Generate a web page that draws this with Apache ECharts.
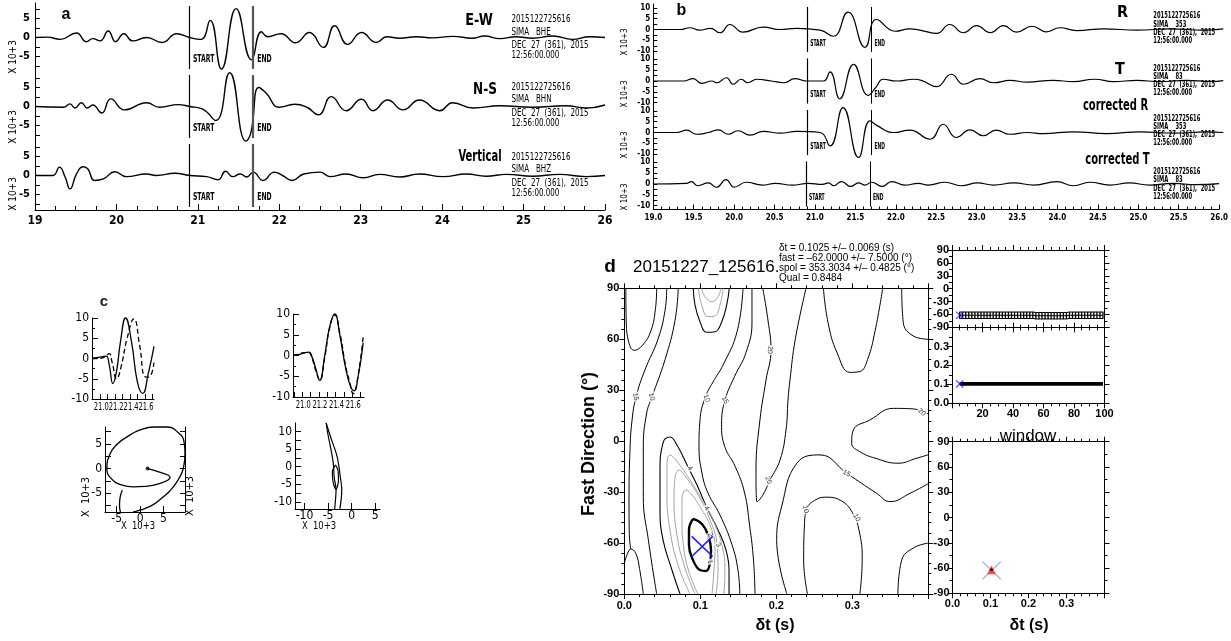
<!DOCTYPE html>
<html><head><meta charset="utf-8">
<script src="https://cdn.jsdelivr.net/npm/echarts@6/dist/echarts.min.js"></script>
<style>html,body{margin:0;padding:0;background:#fff}#c{width:1231px;height:641px}</style>
</head><body><div id="c"></div><script>
// ================= DATA =================
const pickTimes = [20.89, 21.68]; // START, END
const pickLabelY = {a:-5.6, b:-6.6};
// panel a (E-W, N-S, Vertical): [time s, amplitude x10^3]
const aEW = [[19.0,0],[19.15,0.1],[19.31,-0.5],[19.51,1.2],[19.63,-1.1],[19.71,-0.3],[19.8,-0.9],[19.9,1.7],[19.99,-1.1],[20.09,1.0],[20.2,-0.9],[20.37,0],[20.56,-1.3],[20.74,1.0],[20.9,0],[21.04,-0.5],[21.15,4.5],[21.29,-8.3],[21.47,7.6],[21.66,-5.9],[21.78,1.5],[21.86,0.2],[22.02,1.0],[22.2,-1.4],[22.37,1.3],[22.54,-2.6],[22.68,3.1],[22.84,-1.8],[23.01,1.3],[23.19,-1.3],[23.32,0.2],[23.48,-0.2],[23.68,0.2],[23.88,-0.1],[24.13,0.3],[24.37,-0.2],[24.52,0.4],[24.71,-0.3],[24.91,0.2],[25.11,-0.2],[25.36,0.4],[25.6,-0.5],[25.81,0.2],[26.0,0]];
const aNS = [[19.0,0],[19.35,-0.2],[19.43,0.7],[19.49,-0.4],[19.57,1.0],[19.64,-0.4],[19.71,0.4],[19.82,-1.7],[19.93,2.0],[20.1,-0.9],[20.37,1.0],[20.53,-0.2],[20.76,0.5],[20.9,0],[21.06,-0.7],[21.22,-3.7],[21.39,8.9],[21.59,-9.1],[21.65,-7],[21.75,5.0],[21.84,3.5],[22.0,-0.2],[22.19,0.6],[22.34,-0.2],[22.48,-2.2],[22.64,2.6],[22.82,-1.1],[23.01,1.9],[23.15,-1.1],[23.33,1.7],[23.52,-0.9],[23.72,1.7],[23.97,-1.1],[24.13,1.0],[24.38,-0.4],[24.71,0.2],[25.11,-0.2],[25.52,0.2],[25.77,-0.4],[26.0,0.4]];
const aZ = [[19.0,0],[19.22,0],[19.3,2.2],[19.37,-0.4],[19.43,-3.5],[19.51,0.4],[19.59,2.3],[19.65,1.7],[19.73,-1.3],[19.84,-0.9],[19.98,1.0],[20.12,-0.3],[20.37,0.4],[20.49,0],[20.72,0.6],[20.9,0],[21.11,-0.3],[21.25,-1.1],[21.34,1.1],[21.43,-0.3],[21.52,0.4],[21.6,-0.4],[21.68,0.9],[21.8,-1.3],[21.94,0.9],[22.04,0],[22.16,-1.3],[22.3,0.4],[22.5,0.9],[22.62,-0.3],[22.82,0.4],[23.03,-0.6],[23.23,0.3],[23.48,-0.4],[23.72,0.4],[24.01,-0.3],[24.3,0.4],[24.54,-0.2],[24.79,0.3],[25.11,-0.2],[25.44,0.3],[25.77,-0.3],[26.0,0]];
// panel b (R, T, corrected R, corrected T)
const bR = [[19.0,0],[19.33,0],[19.45,0.8],[19.57,-0.3],[19.7,0.5],[19.82,-1.5],[19.94,2.3],[20.1,-1.2],[20.35,1.1],[20.56,0],[20.76,0.5],[21.05,-0.3],[21.21,-3.1],[21.39,8.0],[21.6,-8.2],[21.74,4.6],[21.97,-0.8],[22.15,0.3],[22.3,-0.5],[22.48,-1.8],[22.64,2.3],[22.81,-1.5],[22.97,1.8],[23.14,-1.5],[23.3,1.8],[23.46,-1.2],[23.65,1.5],[23.83,-1.1],[23.99,0.8],[24.2,-0.5],[24.53,0.3],[24.94,-0.3],[25.35,0.3],[25.75,-0.3],[26.0,0.3]];
const bT = [[19.0,0],[19.37,0],[19.49,1.1],[19.59,-1.1],[19.72,0],[19.78,-0.8],[19.9,1.5],[19.98,-1.5],[20.08,0.8],[20.16,-0.8],[20.27,0.8],[20.45,0],[20.6,-0.8],[20.74,1.1],[20.88,0],[21.09,0],[21.17,4.2],[21.29,-8.2],[21.46,7.7],[21.64,-6.6],[21.74,-2.6],[21.82,0.8],[21.99,0],[22.2,0.8],[22.3,0.2],[22.48,-2.6],[22.66,3.1],[22.81,-1.5],[23.01,1.1],[23.18,-0.8],[23.38,0.3],[23.59,-0.5],[23.91,0.3],[24.16,-0.3],[24.42,0.8],[24.65,-0.3],[24.94,0.3],[25.22,-0.3],[25.55,0.3],[25.84,-0.2],[26.0,0.2]];
const bCorrR = [[19.0,0],[19.29,0],[19.41,1.1],[19.53,-0.8],[19.68,0],[19.8,1.2],[19.92,-0.8],[20.04,0.8],[20.19,-1.2],[20.35,0.5],[20.56,-0.3],[20.76,0.5],[21.05,0],[21.17,-6.2],[21.33,11.5],[21.52,-11.5],[21.66,5.4],[21.74,3.4],[21.95,0],[22.15,1.1],[22.4,-3.1],[22.56,3.8],[22.72,-2.3],[22.89,1.2],[23.05,-1.5],[23.21,1.1],[23.38,-0.8],[23.59,0],[23.79,-0.5],[24.16,0.3],[24.57,-0.5],[24.98,0.3],[25.39,-0.3],[25.8,0.3],[26.0,0]];
const bCorrT = [[19.0,0],[19.41,0.3],[19.47,1.1],[19.55,-0.8],[19.68,0.5],[19.78,-1.5],[19.9,2.0],[20.0,-1.5],[20.15,0.8],[20.35,-0.5],[20.51,0.3],[20.72,-0.5],[20.92,0.3],[21.09,-0.2],[21.17,0.5],[21.23,-0.8],[21.33,1.1],[21.44,-1.1],[21.54,0.5],[21.62,-0.5],[21.7,0.8],[21.83,-1.1],[21.95,1.1],[22.11,-0.5],[22.28,0.3],[22.4,-0.5],[22.61,0.8],[22.81,-0.8],[23.01,0.5],[23.21,-0.5],[23.46,0.5],[23.71,-0.5],[23.99,1.1],[24.2,-0.8],[24.4,0.8],[24.65,-0.5],[24.89,0.5],[25.14,-0.5],[25.43,0.3],[25.71,-0.3],[26.0,0.2]];
// panel c waveforms in window (fast solid, slow dashed)
const cFastOrig = [[20.89,0.1],[20.95,0.2],[21.02,0.4],[21.08,0.6],[21.12,-1.5],[21.17,-6.2],[21.22,-3],[21.27,4],[21.34,10],[21.42,4],[21.5,-6],[21.57,-8.6],[21.64,-4],[21.72,3]];
const cSlowOrig = [[20.89,0],[20.98,0],[21.06,0.4],[21.12,1.2],[21.16,-1],[21.22,-5],[21.28,-2],[21.36,5],[21.45,9.8],[21.53,3],[21.6,-4.5],[21.65,-4.6],[21.72,-1]];
const cFastCorr = [[20.89,0],[20.95,0.2],[21.02,0.6],[21.08,0.8],[21.12,-0.5],[21.16,-3],[21.21,-6],[21.27,0],[21.33,7],[21.39,10],[21.45,5],[21.52,-3],[21.58,-7.5],[21.62,-8.5],[21.67,-5],[21.73,3]];
const cSlowCorr = [[20.89,0.1],[20.95,0.3],[21.02,0.7],[21.08,0.7],[21.12,-0.8],[21.16,-3.5],[21.21,-5.8],[21.27,-0.5],[21.33,6.8],[21.39,9.8],[21.45,5.5],[21.52,-2.5],[21.57,-6.5],[21.61,-9.2],[21.66,-6],[21.73,4.5]];
// panel c particle motion
const cPMOrig = [[1.6,0],[4,-0.7],[6.4,-1.8],[4.3,-3.0],[1,-3.6],[-1.4,-3.7],[-4,-3.3],[-6.2,-2],[-7.1,0],[-6.4,3],[-4.8,5],[-2.8,6.4],[0,7.8],[3,8.4],[5.7,8.4],[8,7.4],[9.4,5.4],[9.6,3],[9.3,0.3],[8.2,-2.2],[6.4,-4.5],[4.6,-6],[2.8,-7.3],[1,-8.1],[-0.7,-8.6],[-1.5,-8.8]];
const cPMOrigTail = [[-4.2,-8.8],[-4.4,-7.5],[-4.3,-6],[-3.8,-4.4]];
const cPMStart = [[1.6,0]];
const cPMCorrA = [[-5.4,12.4],[-4.6,9],[-3.7,5.5],[-3.1,3],[-2.7,0],[-2.4,-3],[-2.1,-6.4],[-2.2,-9],[-2.5,-12]];
const cPMCorrB = [[-5.4,12.4],[-5.0,9],[-4.4,5],[-3.9,1],[-3.7,-3],[-3.3,-6.4],[-3.4,-9],[-3.6,-12]];
const cPMCorrLoop = [[-3.4,0.5],[-4.1,-1.5],[-3.9,-4.5],[-3.3,-6.4],[-2.8,-4],[-2.9,-1],[-3.4,0.5]];
// panel d: best result
const bestDt = 0.1025, bestFast = -62.0, bestWindow = 5;
const crossMain = [[[0.0887,-56.1],[0.1163,-67.9]],[[0.0887,-67.9],[0.1163,-56.1]]];
const crossScatter = [[[0.079,-52.4],[0.127,-73.4]],[[0.079,-73.4],[0.127,-52.4]]];
const windows = [5,7,9,11,13,15,17,19,21,23,25,27,29,31,33,35,37,39,41,43,45,47,49,51,53,55,57,59,61,63,65,67,69,71,73,75,77,79,81,83,85,87,89,91,93,95,97,99];
const fastWin = [-62,-62,-62,-62,-62,-62,-62,-62,-62,-62,-62,-62,-62,-62,-62,-62,-62,-62,-62,-62,-62,-62,-62,-62,-62,-63,-63,-63,-63,-63,-63,-63,-63,-63,-63,-63,-62,-62,-62,-62,-62,-62,-62,-62,-62,-62,-62,-62];
const dtWin = [0.1025,0.1025,0.1025,0.1025,0.1025,0.1025,0.1025,0.1025,0.1025,0.1025,0.1025,0.1025,0.1025,0.1025,0.1025,0.1025,0.1025,0.1025,0.1025,0.1025,0.1025,0.1025,0.1025,0.1025,0.1025,0.1025,0.1025,0.1025,0.1025,0.1025,0.1025,0.1025,0.1025,0.1025,0.1025,0.1025,0.1025,0.1025,0.1025,0.1025,0.1025,0.1025,0.1025,0.1025,0.1025,0.1025,0.1025,0.1025];
const fastErr = 7.5;
// panel d: contour lines [dt s, fast deg]
const cU1 = [[0.002,90],[0.0025,72],[0.006,58],[0.013,53.5],[0.024,56.5],[0.035,65],[0.041,78],[0.0426,90]];
const cArch = [[0,-72],[0.004,-66.5],[0.0085,-63.5],[0.015,-66],[0.02,-75],[0.025,-90]];
const c15L = [[0.0558,90],[0.0536,77],[0.0443,60],[0.0272,42],[0.0154,26],[0.0101,12],[0.0075,-5],[0.0062,-35],[0.0066,-55],[0.0085,-63.5]];
const c10L = [[0.071,90],[0.0667,71],[0.0536,48],[0.0364,26],[0.0295,16.6],[0.025,-3.4],[0.025,-33],[0.0316,-58],[0.0426,-90]];
const c10R = [[0.1562,90],[0.1483,64.3],[0.1299,44.8],[0.1167,34.8],[0.1062,25.4],[0.0996,12.5],[0.0983,-3.4],[0.1022,-18.8],[0.1101,-30.5],[0.1259,-43.5],[0.1417,-61],[0.1496,-76],[0.152,-90]];
const c4 = [[0.0733,-90],[0.0628,-76],[0.0509,-58],[0.047,-40.5],[0.047,-17],[0.0509,-1.1],[0.0601,2.4],[0.0693,-2.3],[0.0838,-15.2],[0.0957,-25.8],[0.1088,-39.4],[0.1233,-52.3],[0.1338,-64.1],[0.1378,-76],[0.1378,-90]];
const c4Top = [[0.0908,90],[0.093,80.2],[0.0996,70.3],[0.1084,64.1],[0.1193,64.4],[0.1282,70.3],[0.1347,80.2],[0.1382,90]];
const cG1 = [[0.0864,-90],[0.0707,-72.9],[0.0601,-52.3],[0.0562,-31.7],[0.0562,-14],[0.0601,-8.2],[0.068,-11.1],[0.0864,-22.9],[0.1049,-36.4],[0.1206,-50.5],[0.1299,-64.1],[0.1324,-75.9],[0.1311,-90]];
const cG2 = [[0.093,-90],[0.0786,-72.9],[0.0693,-55.3],[0.0654,-34.7],[0.0667,-21.7],[0.072,-17],[0.0798,-20.5],[0.097,-31.7],[0.1128,-46.4],[0.122,-61.1],[0.1233,-75.9],[0.1207,-90]];
const cG3 = [[0.097,-90],[0.0864,-78.8],[0.0786,-64.1],[0.0759,-46.4],[0.0759,-34.6],[0.0812,-28.8],[0.0891,-31.7],[0.1022,-40.5],[0.1141,-51.1],[0.1193,-62.9],[0.118,-75.9],[0.1154,-90]];
const cGTop1 = [[0.0974,90],[0.1018,80.2],[0.1105,73.3],[0.1193,73.7],[0.1259,80.2],[0.1303,90]];
const cGTop2 = [[0.1018,90],[0.1062,85.1],[0.115,82.1],[0.1237,85.1],[0.1268,90]];
const c1 = [[0.0904,-45.8],[0.1022,-48.8],[0.1101,-55.3],[0.1141,-64.1],[0.1128,-71.7],[0.1075,-76.5],[0.0996,-75.9],[0.0904,-70],[0.0851,-61.1],[0.0851,-52.3],[0.0904,-45.8]];
const c15C = [[0.168,90],[0.168,70],[0.16,52],[0.145,38],[0.1325,24.2],[0.128,10],[0.132,-3],[0.146,-15],[0.158,-30],[0.165,-50],[0.17,-70],[0.172,-90]];
const c20 = [[0.1822,90],[0.189,71.3],[0.193,53.7],[0.1865,36],[0.1785,12.5],[0.1733,-17],[0.1746,-35.8],[0.182,-32],[0.1917,-22.9],[0.2049,-11.1],[0.2128,6.6],[0.2154,24.2],[0.218,36],[0.225,60],[0.2391,90]];
const cTopR = [[0.262,90],[0.268,70],[0.28,52],[0.297,40.5],[0.31,41],[0.32,48],[0.33,65],[0.34,90]];
const cEdgeTop = [[0.365,90],[0.367,70],[0.38,62],[0.4,60]];
const cEdgeBot = [[0.36,-90],[0.365,-70],[0.38,-63],[0.4,-60]];
const c20R = [[0.4,16],[0.38,19],[0.354,19.3],[0.3233,12.5],[0.3014,6.6],[0.2992,-1.3],[0.31,-6.2],[0.33,-10],[0.36,-13],[0.385,-10],[0.4,-8]];
const c15R = [[0.214,-90],[0.2005,-58],[0.207,-38.6],[0.227,-13],[0.2575,-8.1],[0.293,-19],[0.332,-30.7],[0.35,-35.6],[0.376,-30.7],[0.4,-25]];
const c10R2 = [[0.241,-90],[0.236,-70],[0.237,-50],[0.24,-40],[0.25,-35],[0.265,-33],[0.285,-35],[0.30,-42],[0.31,-55],[0.313,-70],[0.31,-90]];
const cLabelPos = [[0.015,26.2],[0.036,26.2],[0.1084,25.2],[0.1325,24.2],[0.1917,53.7],[0.0864,-16],[0.1084,-39.5],[0.1128,-55.3],[0.1237,-61.1],[0.1128,-71],[0.1895,-23],[0.2926,-19],[0.2385,-40],[0.3058,-45],[0.3913,17]];
const cLabelText = ['15','10','10','15','20','4','4','2','3','1','20','15','10','10','20'];
// tick label values
const aYLabels = [-5,0,5];
const bYLabels = [-10,-5,0,5,10];
const cXLabels = [21.0,21.2,21.4,21.6];

// ================= STYLE / LAYOUT =================
const NARROW = "'Liberation Sans Narrow','DejaVu Sans Condensed',sans-serif";
const SANS = "'Liberation Sans',Arial,sans-serif";
const K = '#000';
const grids=[],xAxes=[],yAxes=[],series=[],texts=[];
const G=g=>(grids.push(g),grids.length-1);
const X=a=>(xAxes.push(a),xAxes.length-1);
const Y=a=>(yAxes.push(a),yAxes.length-1);
function ax(o){
  const base={type:'value',splitLine:{show:false},
    axisLine:{show:true,onZero:false,lineStyle:{color:K,width:1}},
    axisTick:{show:true,inside:false,length:5,lineStyle:{color:K,width:1}},
    minorTick:{show:false,lineStyle:{color:K,width:1}},
    axisLabel:{show:true,color:K,fontSize:11,fontFamily:SANS,fontWeight:'bold',margin:4,hideOverlap:false}};
  const r=Object.assign({},base,o);
  ['axisLine','axisTick','axisLabel','minorTick'].forEach(k=>{ if(o[k]) r[k]=Object.assign({},base[k],o[k]); });
  return r;
}
function T(x,y,text,size,o){o=o||{};return {type:'text',x:x,y:y,rotation:o.rot||0,scaleX:o.sx||1,z:100,silent:true,
  style:{text:text,fill:o.color||K,fontSize:size,fontFamily:o.font||NARROW,fontWeight:o.weight||'normal',
  align:o.align||'left',verticalAlign:o.valign||'middle',textAlign:o.align||'left',textVerticalAlign:o.valign||'middle'}};}
function pickLines(lim,endStyle){return {silent:true,symbol:'none',label:{show:false},animation:false,
  data:[[{coord:[pickTimes[0],-lim],lineStyle:{color:K,width:1.2,type:'solid'}},{coord:[pickTimes[0],lim]}],
        [{coord:[pickTimes[1],-lim],lineStyle:endStyle},{coord:[pickTimes[1],lim]}]]};}
const trace=(xi,yi,d,w)=>({type:'line',xAxisIndex:xi,yAxisIndex:yi,data:d,smooth:0.5,symbol:'none',clip:false,lineStyle:{color:K,width:w}});
const pickAxes=[]; // [xi, yi, labelY, fontSize, scaleX, gap]
const cLabelAxes=[]; // [xi, yi]

// ---- panel a ----
const aTops=[3,72,141];
[aEW,aNS,aZ].forEach((d,i)=>{
  const g=G({left:35,top:aTops[i],width:570,height:69});
  const xi=X(ax({gridIndex:g,min:19,max:26,interval:1,show:i===2,
    axisTick:{inside:true,length:6},minorTick:{show:true,splitNumber:4,length:4},
    axisLabel:{fontFamily:NARROW,fontSize:12,margin:5}}));
  const yi=Y(ax({gridIndex:g,min:-9.08,max:9.08,
    axisTick:{inside:true,length:5,customValues:[-7.5,-5,-2.5,0,2.5,5,7.5]},
    axisLabel:{fontFamily:NARROW,fontSize:11,margin:5,customValues:aYLabels}}));
  const s=trace(xi,yi,d,1.4); s.markLine=pickLines(8.3,{color:'#555',width:2.2,type:'solid'}); series.push(s);
  pickAxes.push([xi,yi,pickLabelY.a,11,0.62,4]);
});
// ---- panel b ----
const bTops=[4,55.5,107,158.5];
[bR,bT,bCorrR,bCorrT].forEach((d,i)=>{
  const g=G({left:653.3,top:bTops[i],width:570,height:51});
  const xi=X(ax({gridIndex:g,min:19,max:26,interval:0.5,show:i===3,
    axisTick:{inside:true,length:5},minorTick:{show:true,splitNumber:5,length:3},
    axisLabel:{fontFamily:NARROW,fontSize:8,margin:4,formatter:v=>v.toFixed(1)}}));
  const yi=Y(ax({gridIndex:g,min:-11.75,max:11.75,
    axisTick:{inside:true,length:4,customValues:[-10,-7.5,-5,-2.5,0,2.5,5,7.5,10]},
    axisLabel:{fontFamily:NARROW,fontSize:8,margin:3,customValues:bYLabels}}));
  const s=trace(xi,yi,d,1.2); s.markLine=pickLines(10.4,{color:K,width:1,type:'solid'}); series.push(s);
  pickAxes.push([xi,yi,pickLabelY.b,8,0.62,3]);
});
// ---- panel c ----
const cTickX=[20.9,21.0,21.1,21.2,21.3,21.4,21.5,21.6,21.7];
function cWave(box,xmax,solid,dashed){
  const g=G(box);
  const xi=X(ax({gridIndex:g,min:20.89,max:xmax,axisTick:{inside:true,length:5,customValues:cTickX},
    axisLabel:{show:false}}));
  const yi=Y(ax({gridIndex:g,min:-10,max:10,interval:5,axisTick:{inside:true,length:6},minorTick:{show:true,splitNumber:2,length:3},
    axisLabel:{fontFamily:NARROW,fontSize:12,fontWeight:'normal',margin:3,showMinLabel:true,showMaxLabel:true}}));
  series.push(trace(xi,yi,solid,1.3));
  const s=trace(xi,yi,dashed,1.3); s.lineStyle.type=[5,3]; series.push(s);
  cLabelAxes.push([xi,yi]);
}
cWave({left:92,top:318,width:62,height:81},21.72,cFastOrig,cSlowOrig);
cWave({left:293,top:314,width:71,height:83},21.74,cFastCorr,cSlowCorr);
function cPM(box,xr,yr,xl,yl,yt,right){
  const g=G(box);
  const xi=X(ax({gridIndex:g,min:xr[0],max:xr[1],axisTick:{inside:true,length:6,customValues:xl},
    axisLabel:{customValues:xl,fontFamily:NARROW,fontSize:12,fontWeight:'normal',margin:1,showMinLabel:true,showMaxLabel:true}}));
  const yi=Y(ax({gridIndex:g,min:yr[0],max:yr[1],axisTick:{inside:true,length:6,customValues:yt},
    axisLabel:{customValues:yl,fontFamily:NARROW,fontSize:12,fontWeight:'normal',margin:3,showMinLabel:true,showMaxLabel:true}}));
  if(right) Y(ax({gridIndex:g,min:yr[0],max:yr[1],position:'right',axisTick:{inside:true,length:5,customValues:yt},axisLabel:{show:false}}));
  return [xi,yi];
}
let [x3,y3]=cPM({left:105,top:427,width:80,height:85},[-7.5,9.6],[-8.8,8.4],[-5,0,5],[-5,0,5],[-7.5,-5,-2.5,0,2.5,5,7.5],true);
series.push(trace(x3,y3,cPMOrig,1.3)); series.push(trace(x3,y3,cPMOrigTail,1.3));
series.push({type:'scatter',xAxisIndex:x3,yAxisIndex:y3,data:cPMStart,symbol:'circle',symbolSize:4,itemStyle:{color:K}});
let [x4,y4]=cPM({left:295,top:423,width:85,height:86},[-12,6],[-12,12.4],[-10,-5,0,5],[-10,-5,0,5,10],[-10,-7.5,-5,-2.5,0,2.5,5,7.5,10],false);
[cPMCorrA,cPMCorrB,cPMCorrLoop].forEach(d=>{const s=trace(x4,y4,d,1.2);s.smooth=0.3;series.push(s);});

// ---- panel d main ----
const gD=G({left:624.3,top:288.3,width:304,height:305.7});
const dX={min:0,max:0.4,interval:0.1};
const xD=X(ax(Object.assign({gridIndex:gD,minorTick:{show:true,splitNumber:5,length:3},axisTick:{length:5},
  axisLabel:{formatter:v=>v.toFixed(1),showMaxLabel:false,margin:6}},dX)));
X(ax(Object.assign({gridIndex:gD,position:'top',minorTick:{show:true,splitNumber:5,length:3},axisLabel:{show:false}},dX)));
const yD=Y(ax({gridIndex:gD,min:-90,max:90,interval:30,minorTick:{show:true,splitNumber:5,length:3},axisLabel:{margin:5}}));
Y(ax({gridIndex:gD,min:-90,max:90,interval:30,position:'right',minorTick:{show:true,splitNumber:5,length:3},axisLabel:{show:false}}));
const GREY='#a3a3a3';
const contourSet=[[cU1,K,1],[cArch,K,1],[c15L,K,1],[c10L,K,1],[c10R,K,1],[c4,K,1.1],[c4Top,K,1.1],[cG1,GREY,1],[cG2,GREY,1],[cG3,GREY,1],
  [cGTop1,GREY,1],[cGTop2,GREY,1],[c1,K,2.4],[c15C,K,1],[c20,K,1],[cTopR,K,1],[cEdgeTop,K,1],[cEdgeBot,K,1],[c20R,K,1],[c15R,K,1],[c10R2,K,1]];
contourSet.forEach(([d,c,w])=>series.push({type:'line',xAxisIndex:xD,yAxisIndex:yD,data:d,smooth:0.45,symbol:'none',lineStyle:{color:c,width:w}}));
const labelRot=[-80,-75,-70,-60,-95,-55,-55,-60,-60,-80,-70,-30,-80,-60,-40];
series.push({type:'scatter',xAxisIndex:xD,yAxisIndex:yD,symbolSize:1,itemStyle:{color:'rgba(0,0,0,0)'},z:5,
  data:cLabelPos.map((p,i)=>({value:p,label:{formatter:cLabelText[i],rotate:labelRot[i]}})),
  label:{show:true,position:'inside',color:K,fontSize:7,fontFamily:SANS,backgroundColor:'#fff',padding:[0,1]}});
crossMain.forEach(seg=>series.push({type:'line',xAxisIndex:xD,yAxisIndex:yD,data:seg,symbol:'none',z:6,lineStyle:{color:'#1f1fff',width:1.6}}));

// ---- panel d side plots ----
const XSYM='path://M0,1L1,0L5,4L9,0L10,1L6,5L10,9L9,10L5,6L1,10L0,9L4,5Z';
function sideAxes(box,xr,xi_,yr,yi_,xlab,ylabFmt,xminor,yminor,hideYMax){
  const g=G(box);
  const xb={gridIndex:g,min:xr[0],max:xr[1],interval:xi_,minorTick:{show:true,splitNumber:xminor,length:3},axisTick:{length:5}};
  const xi=X(ax(Object.assign({},xb,{axisLabel:{show:xlab,showMinLabel:xr[1]!==100,showMaxLabel:xr[1]===100,margin:5,formatter:xr[1]===100?null:(v=>v.toFixed(1))}})));
  X(ax(Object.assign({},xb,{position:'top',axisLabel:{show:false}})));
  const yb={gridIndex:g,min:yr[0],max:yr[1],interval:yi_,minorTick:{show:true,splitNumber:yminor,length:3},axisTick:{length:5}};
  const yi=Y(ax(Object.assign({},yb,{axisLabel:{margin:3,showMaxLabel:!hideYMax,formatter:ylabFmt}})));
  Y(ax(Object.assign({},yb,{position:'right',axisLabel:{show:false}})));
  return [xi,yi];
}
let [xp1,yp1]=sideAxes({left:952,top:250,width:152.5,height:77.3},[0,100],20,[-90,90],30,false,null,4,2,false);
series.push({type:'line',xAxisIndex:xp1,yAxisIndex:yp1,data:windows.map((w,i)=>[w,fastWin[i]-fastErr]),symbol:'none',lineStyle:{color:K,width:1}});
series.push({type:'line',xAxisIndex:xp1,yAxisIndex:yp1,data:windows.map((w,i)=>[w,fastWin[i]+fastErr]),symbol:'none',lineStyle:{color:K,width:1}});
series.push({type:'line',xAxisIndex:xp1,yAxisIndex:yp1,data:windows.map((w,i)=>[w,fastWin[i]]),symbol:'rect',symbolSize:[1.3,7],showSymbol:true,itemStyle:{color:K},lineStyle:{color:K,width:1}});
series.push({type:'scatter',xAxisIndex:xp1,yAxisIndex:yp1,data:[[bestWindow,bestFast]],symbol:XSYM,symbolSize:8,itemStyle:{color:'#1f1fff'},z:5});
let [xp2,yp2]=sideAxes({left:952,top:327.6,width:152.5,height:75.7},[0,100],20,[0,0.4],0.1,true,v=>v.toFixed(1),4,2,true);
series.push({type:'line',xAxisIndex:xp2,yAxisIndex:yp2,data:windows.map((w,i)=>[w,dtWin[i]]),symbol:'none',lineStyle:{color:K,width:3.6}});
series.push({type:'scatter',xAxisIndex:xp2,yAxisIndex:yp2,data:[[bestWindow,bestDt]],symbol:XSYM,symbolSize:8,itemStyle:{color:'#1f1fff'},z:5});
let [xp3,yp3]=sideAxes({left:952.5,top:441.7,width:152,height:151.6},[0,0.4],0.1,[-90,90],30,true,null,5,2,false);
crossScatter.forEach(seg=>series.push({type:'line',xAxisIndex:xp3,yAxisIndex:yp3,data:seg,symbol:'none',lineStyle:{color:'#aab2f2',width:1.4}}));
series.push({type:'scatter',xAxisIndex:xp3,yAxisIndex:yp3,data:[[bestDt,bestFast]],symbol:'triangle',symbolSize:9,itemStyle:{color:'#ff2a2a'},z:5});
series.push({type:'scatter',xAxisIndex:xp3,yAxisIndex:yp3,data:[[bestDt,bestFast]],symbol:'circle',symbolSize:3,itemStyle:{color:K},z:6});

// ================= TEXT =================
const PI2=Math.PI/2;
texts.push(T(66,15,'a',16,{font:SANS,weight:'bold',align:'center'}));
[57,127,194].forEach(y=>texts.push(T(13,y,'X 10+3',10,{rot:PI2,align:'center'})));
texts.push(T(479,21,'E-W',15,{weight:'bold',align:'center',sx:0.95}));
texts.push(T(485,90,'N-S',15,{weight:'bold',align:'center',sx:0.9}));
texts.push(T(480,157,'Vertical',15,{weight:'bold',align:'center',sx:0.74}));
[[19.5,'BHE'],[87.3,'BHN'],[157.3,'BHZ']].forEach(([y,ch])=>{
  ['2015122725616','SIMA   '+ch,'DEC  27  (361),  2015','12:56:00.000'].forEach((s,k)=>texts.push(T(511.5,y+[0,12.2,25.5,35.5][k],s,11,{sx:0.72})));
});
texts.push(T(681.5,11,'b',16,{font:SANS,weight:'bold',align:'center'}));
[42,94,145,197].forEach(y=>texts.push(T(625,y,'X 10+3',8,{rot:PI2,align:'center'})));
texts.push(T(1122.5,12.5,'R',16,{weight:'bold',align:'center'}));
texts.push(T(1120,70,'T',16,{weight:'bold',align:'center'}));
texts.push(T(1115.5,106,'corrected R',15,{weight:'bold',align:'center',sx:0.74}));
texts.push(T(1117.5,160,'corrected T',15,{weight:'bold',align:'center',sx:0.74}));
[[16,'353'],[68.3,'83'],[118.3,'353'],[171.7,'83']].forEach(([y,az])=>{
  ['2015122725616','SIMA    '+az,'DEC  27  (361),  2015','12:56:00.000'].forEach((s,k)=>texts.push(T(1153.3,y+k*8.3,s,8.5,{weight:'bold',sx:0.68})));
});
texts.push(T(104,302,'c',15,{font:SANS,weight:'bold',align:'center',color:'#222'}));
texts.push(T(86,497,'X  10+3',11,{rot:PI2,align:'center'}));
texts.push(T(190,496,'X  10+3',11,{rot:PI2,align:'center'}));
texts.push(T(138,526,'X  10+3',11,{align:'center',sx:0.85}));
texts.push(T(319,526,'X  10+3',11,{align:'center',sx:0.85}));
texts.push(T(610,267,'d',19,{font:SANS,weight:'bold',align:'center'}));
texts.push(T(633,267,'20151227_125616.',17,{font:SANS}));
['δt = 0.1025 +/– 0.0069 (s)','fast = –62.0000 +/– 7.5000 (°)','spol = 353.3034 +/– 0.4825 (°)','Qual = 0.8484']
  .forEach((s,k)=>texts.push(T(779,248.3+k*10,s,10,{font:SANS})));
texts.push(T(589,444,'Fast Direction (°)',18,{font:SANS,weight:'bold',rot:PI2,align:'center'}));
texts.push(T(775,626,'δt (s)',16,{font:SANS,weight:'bold',align:'center'}));
texts.push(T(1029,626,'δt (s)',16,{font:SANS,weight:'bold',align:'center'}));
texts.push(T(1028,436,'window',17,{font:SANS,align:'center'}));

const chart=echarts.init(document.getElementById('c'),null,{renderer:'canvas'});
chart.setOption({animation:false,backgroundColor:'#fff',grid:grids,xAxis:xAxes,yAxis:yAxes,series:series,graphic:{elements:texts}});
// START / END labels placed at data coordinates through the axes
pickAxes.forEach(([xi,yi,yv,fs,sx,gap])=>{
  ['START','END'].forEach((name,k)=>{
    const p=chart.convertToPixel({xAxisIndex:xi,yAxisIndex:yi},[pickTimes[k],yv]);
    texts.push(T(p[0]+gap,p[1],name,fs,{weight:'bold',sx:sx}));
  });
});
// tightly packed time labels of panel c, placed through the axes
cLabelAxes.forEach(([xi,yi])=>{
  cXLabels.forEach(v=>{
    const p=chart.convertToPixel({xAxisIndex:xi,yAxisIndex:yi},[v,-10]);
    texts.push(T(p[0]+1,p[1]+8,v.toFixed(1),11,{align:'center',sx:0.68}));
  });
});
chart.setOption({graphic:{elements:texts}},{replaceMerge:['graphic']});
</script></body></html>
